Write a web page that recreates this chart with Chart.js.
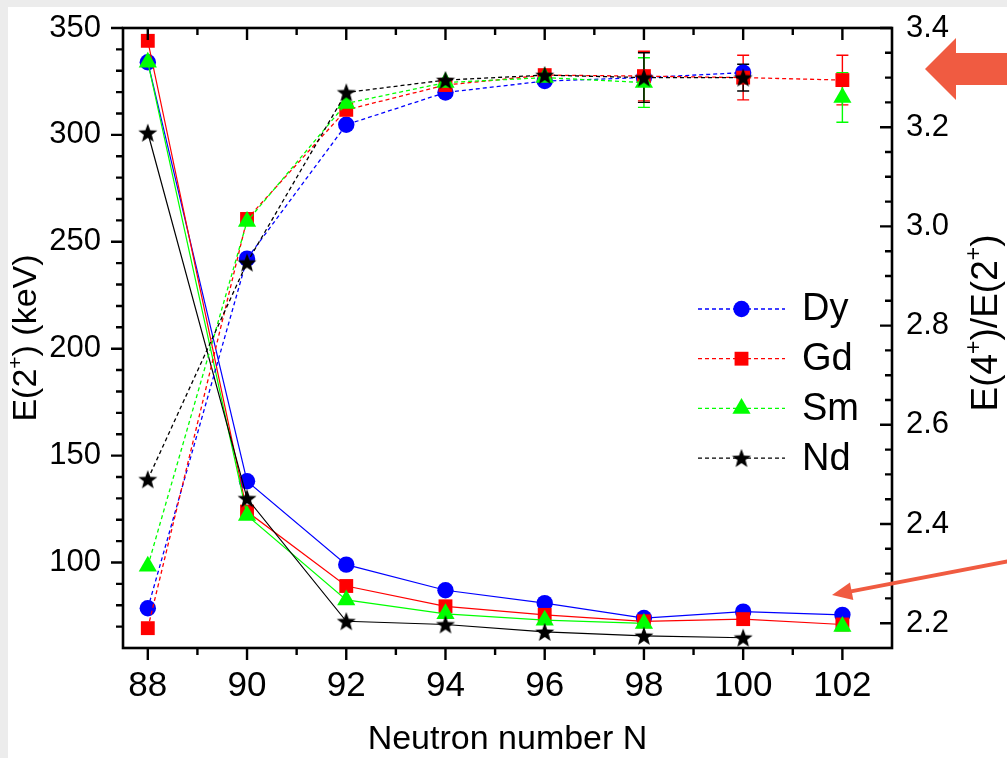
<!DOCTYPE html>
<html>
<head>
<meta charset="utf-8">
<script src="https://cdn.jsdelivr.net/npm/chart.js@4.4.1/dist/chart.umd.min.js"></script>
<style>
  html, body { margin: 0; padding: 0; background: #ececec; overflow: hidden; }
  canvas { display: block; }
</style>
</head>
<body>
<canvas id="grafico" width="1007" height="758"></canvas>
<script>
// neutron numbers on the x axis
var neutronN = [88, 90, 92, 94, 96, 98, 100, 102];

// E(2+) in keV, left axis (solid lines)
var dyE2 = [334, 138, 99, 87, 81, 74, 77, 75.5];
var gdE2 = [344, 123.8, 89, 79.5, 75.5, 72.5, 73.5, 71];
var smE2 = [334, 122, 82.5, 76, 73, 71.5, null, 70];
var ndE2 = [301, 130, 72.5, 71, 67.5, 65.7, 64.8, null];

// E(4+)/E(2+), right axis (dashed lines)
var dyRatio = [2.23, 2.935, 3.205, 3.27, 3.293, 3.30, 3.31, null];
var gdRatio = [2.19, 3.015, 3.235, 3.285, 3.305, 3.303, 3.30, 3.295];
var smRatio = [2.315, 3.01, 3.248, 3.29, 3.30, 3.29, null, 3.26];
var ndRatio = [2.49, 2.927, 3.27, 3.295, 3.305, 3.30, 3.30, null];

// uncertainties on the ratio
var gdRatioErr = [null, null, null, null, null, 0.05, 0.045, 0.05];
var smRatioErr = [null, null, null, null, null, 0.05, null, 0.05];
var ndRatioErr = [null, null, null, null, null, 0.05, 0.027, null];

// tick labels
var xTicks = [88, 90, 92, 94, 96, 98, 100, 102];
var e2Ticks = [100, 150, 200, 250, 300, 350];
var ratioTicks = [2.2, 2.4, 2.6, 2.8, 3.0, 3.2, 3.4];

var FONT = '"Liberation Sans", Arial, sans-serif';
var CORAL = '#f05b41';

// minor tick positions
var xMinor = [];
for (var n = 89; n < 103; n += 2) xMinor.push(n);
var e2Minor = [];
for (var k = 70; k < 350; k += 10) if (k % 50 !== 0) e2Minor.push(k);
var ratioMinor = [];
for (var j = 1; j < 24; j++) if (j % 4 !== 0) ratioMinor.push(2.2 + j * 0.05);

// filled five point star used as point style
function makeStar(r, color) {
  var s = Math.ceil(r * 2 + 2);
  var c = document.createElement('canvas');
  c.width = s; c.height = s;
  var g = c.getContext('2d');
  g.fillStyle = color;
  g.beginPath();
  for (var i = 0; i < 10; i++) {
    var rad = i % 2 === 0 ? r : r * 0.42;
    var a = -Math.PI / 2 + i * Math.PI / 5;
    var px = s / 2 + rad * Math.cos(a), py = s / 2 + 0.8 + rad * Math.sin(a);
    if (i === 0) g.moveTo(px, py); else g.lineTo(px, py);
  }
  g.closePath();
  g.fill();
  return c;
}
var star = makeStar(10, '#000');

function pts(values) {
  return neutronN.map(function (x, i) { return { x: x, y: values[i] }; });
}

function e2Set(label, values, color, style, radius, order) {
  return {
    label: label, data: pts(values), yAxisID: 'y',
    borderColor: color, backgroundColor: color, borderWidth: 1.2,
    pointStyle: style, pointRadius: radius, pointBorderWidth: 0,
    order: order, spanGaps: false, tension: 0
  };
}

function ratioSet(label, values, errs, color, style, radius, order) {
  var ds = e2Set(label, values, color, style, radius, order);
  ds.yAxisID = 'y1';
  ds.borderDash = [4, 3];
  ds.borderWidth = 1.3;
  ds.errors = errs;
  ds.inLegend = true;
  return ds;
}

var datasets = [
  e2Set('Dy', dyE2, '#0000ff', 'circle', 8.2, 8),
  e2Set('Gd', gdE2, '#ff0000', 'rect', 9.8, 7),
  e2Set('Sm', smE2, '#00ff00', 'triangle', 10.5, 6),
  e2Set('Nd', ndE2, '#000000', star, 10, 5),
  ratioSet('Dy', dyRatio, null, '#0000ff', 'circle', 8.2, 4),
  ratioSet('Gd', gdRatio, gdRatioErr, '#ff0000', 'rect', 9.8, 3),
  ratioSet('Sm', smRatio, smRatioErr, '#00ff00', 'triangle', 10.5, 2),
  ratioSet('Nd', ndRatio, ndRatioErr, '#000000', star, 10, 1)
];

// grey page margin and white panel
var fondo = {
  id: 'fondo',
  beforeDraw: function (chart) {
    var ctx = chart.ctx;
    ctx.save();
    ctx.fillStyle = '#ececec';
    ctx.fillRect(0, 0, chart.width, chart.height);
    ctx.fillStyle = '#ffffff';
    ctx.fillRect(8, 7, chart.width - 8, chart.height - 7);
    ctx.restore();
  }
};

// vertical error bars with caps
var errorBars = {
  id: 'errorBars',
  beforeDatasetsDraw: function (chart) {
    var ctx = chart.ctx, sx = chart.scales.x;
    ctx.save();
    ctx.lineWidth = 1.4;
    chart.data.datasets.forEach(function (ds) {
      if (!ds.errors) return;
      var sy = chart.scales[ds.yAxisID];
      ctx.strokeStyle = ds.borderColor;
      ds.data.forEach(function (p, i) {
        var e = ds.errors[i];
        if (e == null || p.y == null) return;
        var x = sx.getPixelForValue(p.x);
        var y1 = sy.getPixelForValue(p.y + e), y2 = sy.getPixelForValue(p.y - e);
        ctx.beginPath();
        ctx.moveTo(x, y1); ctx.lineTo(x, y2);
        ctx.moveTo(x - 6, y1); ctx.lineTo(x + 6, y1);
        ctx.moveTo(x - 6, y2); ctx.lineTo(x + 6, y2);
        ctx.stroke();
      });
    });
    ctx.restore();
  }
};

// box frame plus major/minor ticks on all four sides
var marco = {
  id: 'marco',
  afterDatasetsDraw: function (chart) {
    var ctx = chart.ctx, a = chart.chartArea;
    var sx = chart.scales.x, sy = chart.scales.y, sr = chart.scales.y1;
    ctx.save();
    ctx.strokeStyle = '#000';
    ctx.lineWidth = 2.6;
    ctx.strokeRect(a.left, a.top, a.right - a.left, a.bottom - a.top);
    ctx.lineWidth = 2.4;
    ctx.beginPath();
    function seg(x1, y1, x2, y2) { ctx.moveTo(x1, y1); ctx.lineTo(x2, y2); }
    function xt(v, len) {
      var p = sx.getPixelForValue(v);
      seg(p, a.bottom, p, a.bottom + len);
      seg(p, a.top, p, a.top + len);
    }
    xTicks.forEach(function (v) { xt(v, 12); });
    xMinor.forEach(function (v) { xt(v, 7); });
    e2Ticks.forEach(function (v) { var p = sy.getPixelForValue(v); seg(a.left - 12, p, a.left, p); });
    e2Minor.forEach(function (v) { var p = sy.getPixelForValue(v); seg(a.left - 7, p, a.left, p); });
    ratioTicks.forEach(function (v) { var p = sr.getPixelForValue(v); seg(a.right - 12, p, a.right, p); });
    ratioMinor.forEach(function (v) { var p = sr.getPixelForValue(v); seg(a.right - 7, p, a.right, p); });
    ctx.stroke();
    ctx.restore();
  }
};

// rotated axis title with superscripts, reading bottom to top
function tituloVertical(ctx, parts, cx, cy, size) {
  var font = size + 'px ' + FONT;
  var supFont = Math.round(size * 0.62) + 'px ' + FONT;
  var widths = parts.map(function (p) {
    ctx.font = p.sup ? supFont : font;
    return ctx.measureText(p.t).width;
  });
  var total = widths.reduce(function (s, w) { return s + w; }, 0);
  ctx.save();
  ctx.translate(cx + size * 0.26, cy);
  ctx.rotate(-Math.PI / 2);
  ctx.fillStyle = '#000';
  ctx.textBaseline = 'alphabetic';
  var u = -total / 2;
  parts.forEach(function (p, i) {
    ctx.font = p.sup ? supFont : font;
    ctx.fillText(p.t, u, p.sup ? -size * 0.42 : 0);
    u += widths[i];
  });
  ctx.restore();
}

var titulos = {
  id: 'titulos',
  afterDraw: function (chart) {
    var ctx = chart.ctx, a = chart.chartArea;
    tituloVertical(ctx, [{ t: 'E(2' }, { t: '+', sup: true }, { t: ') (keV)' }],
      27, (a.top + a.bottom) / 2, 34);
    tituloVertical(ctx, [{ t: 'E(4' }, { t: '+', sup: true }, { t: ')/E(2' }, { t: '+', sup: true }, { t: ')' }],
      987, 323, 37);
  }
};

// legend inside the plot: dashed line with the marker in the middle
var leyenda = {
  id: 'leyenda',
  afterDraw: function (chart) {
    var ctx = chart.ctx;
    var x0 = 698, len = 87, y0 = 309, row = 49.7;
    var items = chart.data.datasets.filter(function (ds) { return ds.inLegend; });
    ctx.save();
    items.forEach(function (ds, i) {
      var y = y0 + i * row;
      ctx.strokeStyle = ds.borderColor;
      ctx.lineWidth = ds.borderWidth;
      ctx.setLineDash(ds.borderDash);
      ctx.beginPath();
      ctx.moveTo(x0, y); ctx.lineTo(x0 + len, y);
      ctx.stroke();
      ctx.setLineDash([]);
      ctx.fillStyle = ds.backgroundColor;
      Chart.helpers.drawPoint(ctx, { pointStyle: ds.pointStyle, radius: ds.pointRadius, rotation: 0, borderWidth: 0 }, x0 + len / 2, y);
      ctx.fillStyle = '#000';
      ctx.font = '38px ' + FONT;
      ctx.textBaseline = 'middle';
      ctx.textAlign = 'left';
      ctx.fillText(ds.label, 802, y + 1);
    });
    ctx.restore();
  }
};

// the two coral arrows on the right
function flecha(ctx, x1, y1, x2, y2, w, headLen, headHalf) {
  var dx = x2 - x1, dy = y2 - y1, d = Math.sqrt(dx * dx + dy * dy);
  var ux = dx / d, uy = dy / d;
  var bx = x2 - ux * headLen, by = y2 - uy * headLen;
  ctx.lineWidth = w;
  ctx.beginPath();
  ctx.moveTo(x1, y1); ctx.lineTo(bx + ux * 2, by + uy * 2);
  ctx.stroke();
  ctx.beginPath();
  ctx.moveTo(x2, y2);
  ctx.lineTo(bx - uy * headHalf, by + ux * headHalf);
  ctx.lineTo(bx + uy * headHalf, by - ux * headHalf);
  ctx.closePath();
  ctx.fill();
}

var flechas = {
  id: 'flechas',
  afterDraw: function (chart) {
    var ctx = chart.ctx;
    ctx.save();
    ctx.fillStyle = CORAL;
    ctx.strokeStyle = CORAL;
    ctx.beginPath();
    ctx.moveTo(925, 69);
    ctx.lineTo(956, 38);
    ctx.lineTo(956, 53);
    ctx.lineTo(1007, 53);
    ctx.lineTo(1007, 85);
    ctx.lineTo(956, 85);
    ctx.lineTo(956, 100);
    ctx.closePath();
    ctx.fill();
    flecha(ctx, 1010, 561, 832, 595, 4, 20, 9);
    ctx.restore();
  }
};

// keep the plot box fixed: no extra room for the end labels
function sinPadding(s) {
  s.paddingTop = 0;
  s.paddingBottom = 0;
}

var tickFont = { family: FONT, size: 31 };

var ctx = document.getElementById('grafico').getContext('2d');
var myChart = new Chart(ctx, {
  type: 'line',
  data: { datasets: datasets },
  plugins: [fondo, errorBars, marco, titulos, leyenda, flechas],
  options: {
    responsive: false,
    animation: false,
    devicePixelRatio: 1,
    events: [],
    layout: { padding: { top: 28, left: 0, right: 0, bottom: 0 } },
    plugins: { legend: { display: false }, tooltip: { enabled: false } },
    scales: {
      x: {
        type: 'linear', position: 'bottom', min: 87.5, max: 103,
        afterBuildTicks: function (s) { s.ticks = xTicks.map(function (v) { return { value: v }; }); },
        afterFit: function (s) { s.height = 110; s.paddingLeft = 0; s.paddingRight = 0; },
        grid: { display: false, drawTicks: false },
        border: { display: false },
        ticks: { color: '#000', font: { family: FONT, size: 35 }, padding: 17, autoSkip: false, maxRotation: 0 },
        title: { display: true, text: 'Neutron number N', color: '#000', font: { family: FONT, size: 34, lineHeight: 1 }, padding: { top: 0, bottom: 1 } }
      },
      y: {
        type: 'linear', position: 'left', min: 60, max: 350,
        afterBuildTicks: function (s) { s.ticks = e2Ticks.map(function (v) { return { value: v }; }); },
        afterFit: function (s) { s.width = 123; sinPadding(s); },
        grid: { display: false, drawTicks: false },
        border: { display: false },
        ticks: { color: '#000', font: tickFont, padding: 22, autoSkip: false }
      },
      y1: {
        type: 'linear', position: 'right', min: 2.15, max: 3.4,
        afterBuildTicks: function (s) { s.ticks = ratioTicks.map(function (v) { return { value: v }; }); },
        afterFit: function (s) { s.width = 115; sinPadding(s); },
        grid: { display: false, drawTicks: false },
        border: { display: false },
        ticks: { color: '#000', font: tickFont, padding: 14, autoSkip: false,
          callback: function (v) { return v.toFixed(1); } }
      }
    }
  }
});
</script>
</body>
</html>
